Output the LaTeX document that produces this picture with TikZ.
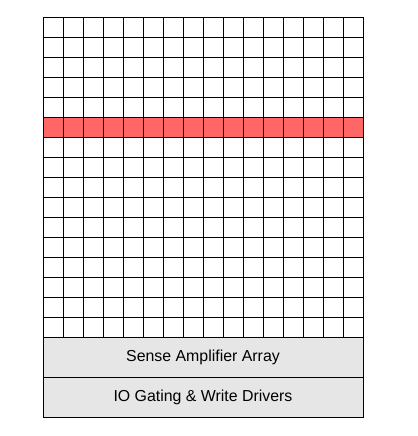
\documentclass[tikz,border=0pt]{standalone}
\usepackage{fontspec}
\setmainfont{Liberation Sans}
\usepackage{xcolor}
\usetikzlibrary{positioning}

\definecolor{rowred}{HTML}{FF6666}
\definecolor{periphgray}{HTML}{E6E6E6}

\begin{document}
\begin{tikzpicture}[
  x=5mm, y=-5mm,
  font=\fontsize{11.3}{13}\selectfont,
  line width=0.7pt,
  openrow/.style={fill=rowred},
  periph/.style={draw, fill=periphgray, minimum width=80mm, minimum height=10mm,
                 inner sep=0pt, outer sep=0pt},
  node distance=0pt,
]
  \useasboundingbox (-2.15,-0.85) rectangle (18.75,20.95);

  % the activated row, then the cell array over it
  \fill[openrow] (0,5) rectangle (16,6);
  \foreach \i in {0,...,16} {
    \draw (\i,0) -- (\i,16);
    \draw (0,\i) -- (16,\i);
  }

  % periphery below the array
  \node[periph, anchor=north west] (senseamp) at (0,16) {Sense Amplifier Array};
  \node[periph, below=of senseamp] (iogate) {IO Gating \& Write Drivers};
\end{tikzpicture}
\end{document}
